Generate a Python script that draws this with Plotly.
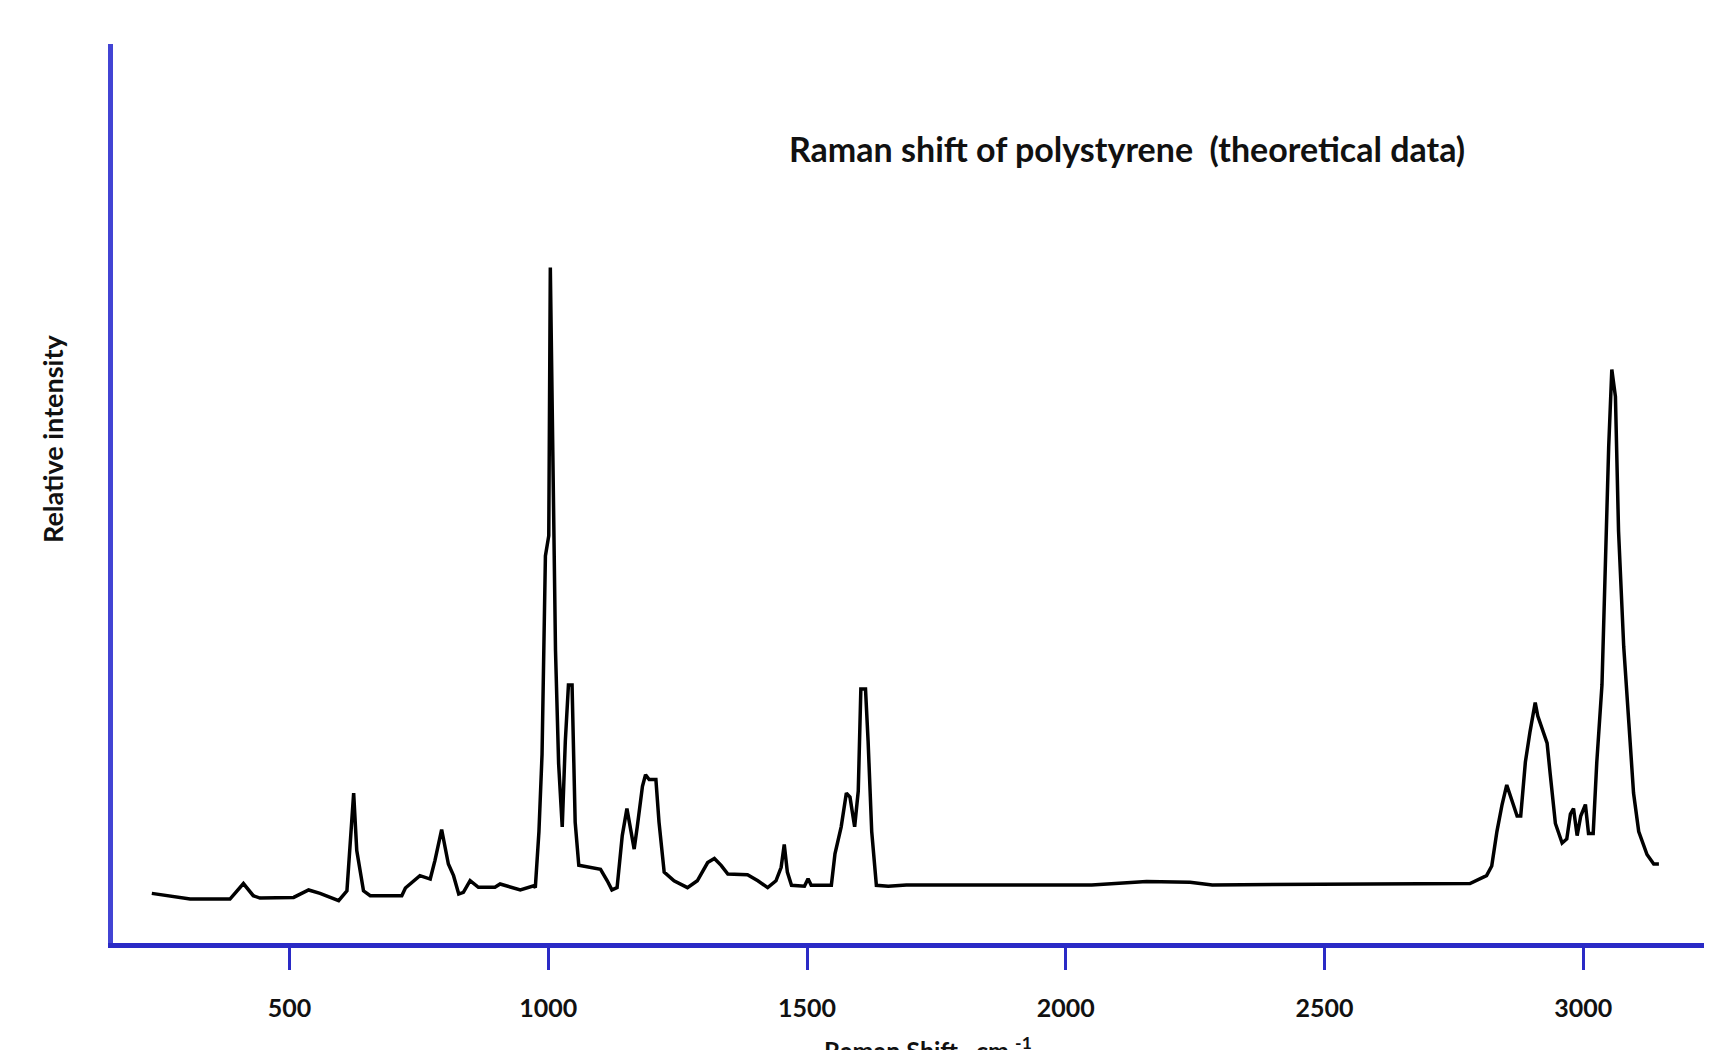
import plotly.graph_objects as go

# Raman shift (cm-1) and relative intensity
raman_shift = [
    234, 308, 385, 411, 430, 443, 508, 537, 559, 595, 611, 624, 630, 643, 656,
    717, 724, 752, 772, 781, 794, 807, 817, 827, 836, 849, 865, 897, 907, 946,
    972, 975, 982, 988, 994.5, 1001, 1004, 1010.5, 1014, 1020, 1027, 1033,
    1039, 1046, 1052, 1059, 1078, 1101, 1114, 1123, 1133, 1143, 1152, 1159,
    1166, 1172, 1182, 1188, 1195, 1208, 1214, 1224, 1243, 1269, 1288, 1308,
    1321, 1334, 1347, 1385, 1405, 1424, 1440, 1450, 1456, 1462, 1470, 1495,
    1502, 1508, 1547, 1554, 1566, 1576, 1583, 1592, 1599, 1604, 1613, 1618,
    1625, 1634, 1657, 1692, 2050, 2156, 2240, 2283, 2743, 2781, 2813, 2823,
    2833, 2843, 2852, 2862, 2872, 2879, 2888, 2897, 2907, 2912, 2930, 2936,
    2946, 2959, 2968, 2975, 2981, 2988, 2995, 3004, 3010, 3019, 3026, 3036,
    3042, 3049, 3055, 3062, 3068, 3078, 3088, 3097, 3107, 3123, 3136, 3146,
]
intensity = [
    7.35, 6.5, 6.5, 8.8, 7.0, 6.65, 6.75, 7.85, 7.35, 6.26, 7.73, 22.2, 13.7,
    7.73, 7.0, 7.0, 8.14, 9.97, 9.47, 12.2, 16.8, 11.7, 9.97, 7.25, 7.49, 9.22,
    8.24, 8.24, 8.74, 7.85, 8.48, 8.2, 16.5, 27.9, 57.3, 60.3, 100.0, 61.3,
    43.3, 26.6, 17.2, 29.9, 38.2, 38.2, 17.9, 11.5, 11.2, 10.9, 9.21, 7.86,
    8.2, 15.9, 19.9, 16.5, 13.9, 17.2, 23.2, 24.9, 24.2, 24.2, 17.9, 10.5,
    9.21, 8.2, 9.21, 11.9, 12.5, 11.5, 10.2, 10.1, 9.21, 8.2, 9.21, 11.2, 14.6,
    10.5, 8.54, 8.41, 9.53, 8.54, 8.54, 13.2, 17.2, 22.2, 21.6, 17.2, 22.5,
    37.6, 37.6, 29.9, 16.5, 8.54, 8.4, 8.6, 8.6, 9.1, 9.0, 8.6, 8.7, 8.8, 9.97,
    11.4, 16.5, 20.5, 23.4, 21.1, 18.8, 18.8, 26.8, 31.3, 35.6, 33.6, 29.6,
    25.0, 17.7, 14.8, 15.4, 19.1, 19.9, 15.9, 18.8, 20.5, 16.2, 16.2, 26.8,
    38.2, 55.3, 73.5, 84.9, 80.9, 61.0, 43.9, 32.5, 22.2, 16.5, 13.1, 11.7,
    11.7,
]
x_ticks = [500, 1000, 1500, 2000, 2500, 3000]
x_tick_labels = ["500", "1000", "1500", "2000", "2500", "3000"]

BLUE_X = "#2a2ac6"
BLUE_Y = "#4244d4"
FONT = "Lato"

fig = go.Figure()
fig.add_trace(go.Scatter(
    x=raman_shift, y=intensity, mode="lines",
    line=dict(color="black", width=3.5), hoverinfo="skip", showlegend=False,
))

# page body has an 8px margin, so the figure is sized to fit the window
fig.update_layout(
    width=1704, height=1042,
    margin=dict(l=105, r=6, t=36, b=107, autoexpand=False),
    paper_bgcolor="white", plot_bgcolor="white",
    font=dict(family=FONT, color="#111111"),
    xaxis=dict(
        range=[159, 3237], showgrid=False, zeroline=False, automargin=False,
        showline=True, linecolor=BLUE_X, linewidth=5,
        tickmode="array", tickvals=x_ticks, ticktext=x_tick_labels,
        ticks="outside", ticklen=22, tickwidth=3, tickcolor=BLUE_X,
        ticklabelstandoff=17,
        tickfont=dict(family=FONT, size=25, color="#111111", weight="bold"),
    ),
    yaxis=dict(
        range=[0, 133.1], showgrid=False, zeroline=False, automargin=False,
        showline=True, linecolor=BLUE_Y, linewidth=5, mirror=True,
        showticklabels=False, ticks="",
    ),
    annotations=[
        dict(text="Raman shift of polystyrene  (theoretical data)",
             xref="paper", yref="paper", x=0.6368, y=0.884,
             xanchor="center", yanchor="middle", showarrow=False,
             font=dict(family=FONT, size=34, color="#111111", weight="bold")),
        dict(text="Relative intensity",
             xref="paper", yref="paper", x=-0.0383, y=0.5617, textangle=-90,
             xanchor="center", yanchor="middle", showarrow=False,
             font=dict(family=FONT, size=27, color="#111111", weight="bold")),
        dict(text="Raman Shift , cm <sup>-1</sup>",
             xref="paper", yref="paper", x=0.5113, y=-0.097,
             xanchor="center", yanchor="top", showarrow=False,
             font=dict(family=FONT, size=25, color="#111111", weight="bold")),
    ],
)

fig.write_html("out.html")
